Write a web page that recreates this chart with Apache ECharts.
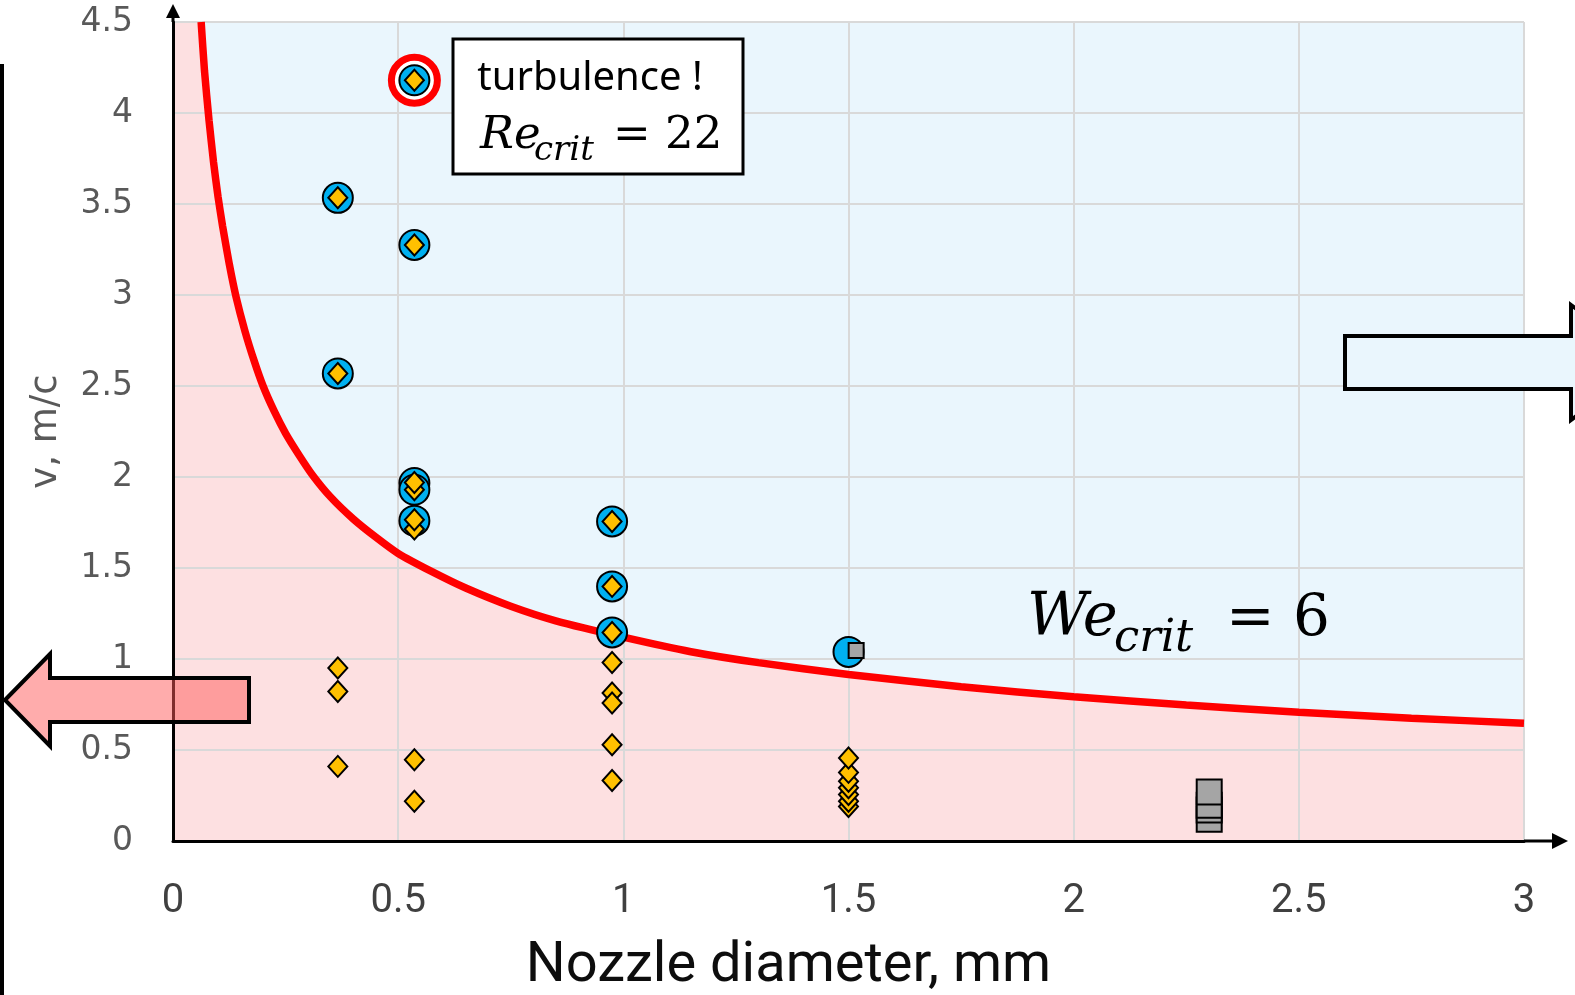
<!DOCTYPE html>
<html>
<head>
<meta charset="utf-8">
<script src="https://cdn.jsdelivr.net/npm/echarts@6/dist/echarts.min.js"></script>
<style>
html,body{margin:0;padding:0;background:#fff}
#chart{width:1575px;height:995px}
</style>
</head>
<body>
<div id="chart"></div>
<script>
// We_crit = 6 boundary
var weCurve = [[0.0625,4.5],[0.07,4.23],[0.08,3.96],[0.09,3.73],[0.1,3.54],[0.11,3.38],[0.125,3.17],
    [0.14,2.99],[0.16,2.8],[0.18,2.64],[0.2,2.5],[0.225,2.36],[0.25,2.24],[0.28,2.12],[0.31,2.01],
    [0.35,1.89],[0.4,1.77],[0.45,1.67],[0.5,1.58],[0.575,1.48],[0.65,1.39],[0.75,1.29],[0.85,1.21],
    [1,1.12],[1.15,1.04],[1.3,0.98],[1.5,0.915],[1.75,0.847],[2,0.792],[2.25,0.747],[2.5,0.708],
    [2.75,0.675],[3,0.647]];
var pinkCorner = [[0,4.5]];

var turbulencePoint = [[0.536,4.18]];
var bluePoints = [[0.366,3.534],[0.366,2.569],[0.536,4.18],[0.536,3.275],[0.536,1.967],[0.536,1.93],
    [0.536,1.76],[0.975,1.756],[0.975,1.399],[0.975,1.146],[1.5,1.039]];
var yellowPoints = [[0.366,3.534],[0.366,2.569],[0.366,0.951],[0.366,0.822],[0.366,0.41],
    [0.536,4.18],[0.536,3.275],[0.536,1.93],[0.536,1.97],[0.536,1.714],[0.536,1.765],[0.536,0.446],[0.536,0.218],
    [0.975,1.756],[0.975,1.399],[0.975,1.146],[0.975,0.981],[0.975,0.813],[0.975,0.758],[0.975,0.529],[0.975,0.333],
    [1.5,0.19],[1.5,0.218],[1.5,0.255],[1.5,0.292],[1.5,0.328],[1.5,0.377],[1.5,0.456]];
var greySmall = [[1.517,1.047]];
var greyLarge = [[2.301,0.12],[2.301,0.17],[2.301,0.197],[2.301,0.269]];

var xMin = 0, xMax = 3, xStep = 0.5;
var yMin = 0, yMax = 4.5, yStep = 0.5;

var chart = echarts.init(document.getElementById('chart'));

var option = {
    animation: false,
    grid: {left: 173, right: 51, top: 22, bottom: 154, outerBoundsMode: 'none'},
    xAxis: {
        type: 'value', min: xMin, max: xMax, interval: xStep,
        name: 'Nozzle diameter, mm', nameLocation: 'middle', nameGap: 98,
        nameTextStyle: {fontFamily: "'Liberation Sans Narrow', Roboto", fontSize: 56, color: '#0d0d0d', padding: [0, 120, 0, 0]},
        axisLine: {show: true, onZero: false, lineStyle: {color: '#000', width: 3}},
        axisTick: {show: false},
        axisLabel: {margin: 41, fontFamily: "'Liberation Sans Narrow', Roboto", fontSize: 40, color: '#404040'},
        splitLine: {show: true, lineStyle: {color: '#d9d9d9', width: 2}}
    },
    yAxis: {
        type: 'value', min: yMin, max: yMax, interval: yStep,
        name: 'v, m/c', nameLocation: 'middle', nameGap: 108,
        nameTextStyle: {fontFamily: 'DejaVu Sans', fontSize: 37, color: '#595959'},
        axisLine: {show: true, onZero: false, lineStyle: {color: '#000', width: 3}},
        axisTick: {show: false},
        axisLabel: {margin: 40, fontFamily: 'DejaVu Sans', fontSize: 33, color: '#595959', padding: [18, 0, 0, 0]},
        splitLine: {show: true, lineStyle: {color: '#d9d9d9', width: 2}}
    },
    series: [
        {   // pink region below the curve
            type: 'line', data: pinkCorner.concat(weCurve), smooth: 0.2, symbol: 'none', z: -1,
            lineStyle: {width: 0}, areaStyle: {color: '#fde0e1', opacity: 1, origin: 'start'}
        },
        {   // blue region above the curve
            type: 'line', data: weCurve, smooth: 0.2, symbol: 'none', z: -1,
            lineStyle: {width: 0}, areaStyle: {color: '#eaf6fd', opacity: 1, origin: 'end'}
        },
        {
            type: 'line', data: weCurve, smooth: 0.2, symbol: 'none', z: 3,
            lineStyle: {color: '#ff0000', width: 7.5}
        },
        {
            type: 'scatter', data: turbulencePoint, symbol: 'circle', symbolSize: 46, z: 4,
            itemStyle: {color: '#ffffff', borderColor: '#ff0000', borderWidth: 7, opacity: 1}
        },
        {
            type: 'scatter', data: bluePoints, symbol: 'circle', symbolSize: 30, z: 5,
            itemStyle: {color: '#00b0f0', borderColor: '#000', borderWidth: 2, opacity: 1}
        },
        {
            type: 'scatter', data: yellowPoints, symbol: 'diamond', symbolSize: [19, 21], z: 6,
            itemStyle: {color: '#ffc000', borderColor: '#000', borderWidth: 2, opacity: 1}
        },
        {
            type: 'scatter', data: greySmall, symbol: 'rect', symbolSize: 15, z: 7,
            itemStyle: {color: '#a5a5a5', borderColor: '#000', borderWidth: 2, opacity: 1}
        },
        {
            type: 'scatter', data: greyLarge, symbol: 'rect', symbolSize: 25, z: 7,
            itemStyle: {color: '#a5a5a5', borderColor: '#000', borderWidth: 2, opacity: 1}
        }
    ]
};
chart.setOption(option);

// axis arrows and slide decorations
var xEnd = chart.convertToPixel({gridIndex: 0}, [xMax, yMin]);
var yEnd = chart.convertToPixel({gridIndex: 0}, [xMin, yMax]);
var serif = 'DejaVu Serif';

chart.setOption({
    graphic: [
        {type: 'line', z: 10, shape: {x1: xEnd[0], y1: xEnd[1], x2: xEnd[0] + 30, y2: xEnd[1]}, style: {stroke: '#000', lineWidth: 3}},
        {type: 'polygon', z: 10, shape: {points: [[xEnd[0] + 28, xEnd[1] - 8], [xEnd[0] + 44, xEnd[1]], [xEnd[0] + 28, xEnd[1] + 8]]}, style: {fill: '#000'}},
        {type: 'line', z: 10, shape: {x1: yEnd[0], y1: yEnd[1], x2: yEnd[0], y2: yEnd[1] - 8}, style: {stroke: '#000', lineWidth: 3}},
        {type: 'polygon', z: 10, shape: {points: [[yEnd[0] - 7, yEnd[1] - 4], [yEnd[0], yEnd[1] - 18], [yEnd[0] + 7, yEnd[1] - 4]]}, style: {fill: '#000'}},

        {type: 'line', z: 10, shape: {x1: 2, y1: 64, x2: 2, y2: 995}, style: {stroke: '#000', lineWidth: 4}},
        {type: 'polygon', z: 10, shape: {points: [[5, 700], [50, 654], [50, 678], [249, 678], [249, 722], [50, 722], [50, 746]]},
            style: {fill: 'rgba(255,90,90,0.5)', stroke: '#000', lineWidth: 4}},
        {type: 'polygon', z: 10, shape: {points: [[1345, 336], [1571, 336], [1571, 305], [1650, 362], [1571, 420], [1571, 389], [1345, 389]]},
            style: {fill: '#eaf6fd', stroke: '#000', lineWidth: 4}},

        {type: 'rect', z: 10, shape: {x: 453, y: 39, width: 290, height: 135}, style: {fill: '#fff', stroke: '#000', lineWidth: 3}},
        {type: 'text', z: 11, style: {x: 590, y: 79, text: 'turbulence !', fontFamily: 'Noto Sans', fontSize: 40, fill: '#000', align: 'center', verticalAlign: 'middle'}},
        {type: 'text', z: 11, style: {x: 480, y: 136, text: 'Re', fontFamily: serif, fontStyle: 'italic', fontSize: 45, fill: '#000', align: 'left', verticalAlign: 'middle'}},
        {type: 'text', z: 11, style: {x: 534, y: 151, text: 'crit', fontFamily: serif, fontStyle: 'italic', fontSize: 34, fill: '#000', align: 'left', verticalAlign: 'middle'}},
        {type: 'text', z: 11, style: {x: 613, y: 136, text: '= 22', fontFamily: serif, fontSize: 45, fill: '#000', align: 'left', verticalAlign: 'middle'}},

        {type: 'text', z: 11, style: {x: 1027, y: 620, text: 'We', fontFamily: serif, fontStyle: 'italic', fontSize: 59, fill: '#000', align: 'left', verticalAlign: 'middle'}},
        {type: 'text', z: 11, style: {x: 1114, y: 639, text: 'crit', fontFamily: serif, fontStyle: 'italic', fontSize: 45, fill: '#000', align: 'left', verticalAlign: 'middle'}},
        {type: 'text', z: 11, style: {x: 1226, y: 620, text: '= 6', fontFamily: serif, fontSize: 58, fill: '#000', align: 'left', verticalAlign: 'middle'}}
    ]
});
</script>
</body>
</html>
